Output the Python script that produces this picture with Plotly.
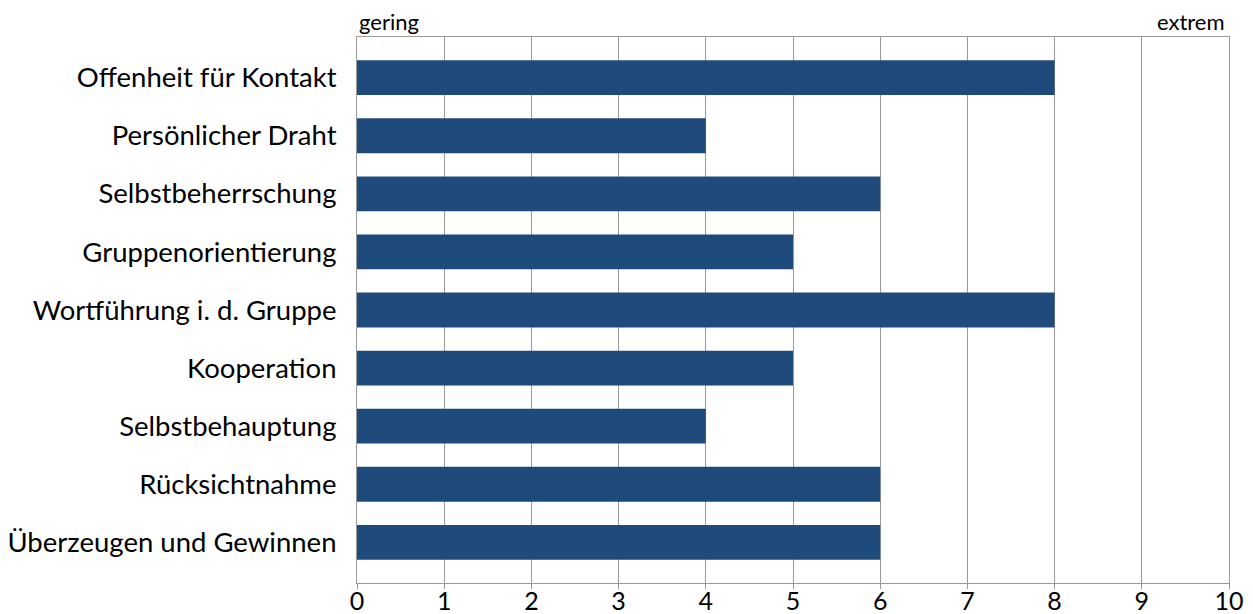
import plotly.graph_objects as go

categories = ["Offenheit für Kontakt", "Persönlicher Draht", "Selbstbeherrschung",
              "Gruppenorientierung", "Wortführung i. d. Gruppe", "Kooperation",
              "Selbstbehauptung", "Rücksichtnahme", "Überzeugen und Gewinnen"]
values = [8, 4, 6, 5, 8, 5, 4, 6, 6]
x_ticks = list(range(0, 11))
left_label = "gering"
right_label = "extrem"

fig = go.Figure(go.Bar(
    x=values, y=categories, orientation="h",
    marker=dict(color="#1f4a7c", line=dict(width=0)),
    width=0.6,
))

fig.update_layout(
    width=1245, height=606,
    margin=dict(l=349, r=24, t=29, b=31, autoexpand=False),
    paper_bgcolor="white", plot_bgcolor="white",
    font=dict(family="Lato", color="black"),
    showlegend=False,
    bargap=0.4,
    annotations=[
        dict(text=left_label, x=0, y=1, xref="paper", yref="paper",
             xanchor="left", yanchor="bottom", showarrow=False,
             font=dict(size=22, family="Lato"), xshift=0, yshift=0),
        dict(text=right_label, x=1, y=1, xref="paper", yref="paper",
             xanchor="right", yanchor="bottom", showarrow=False,
             font=dict(size=22, family="Lato"), xshift=-2, yshift=0),
    ],
)
fig.update_xaxes(
    range=[0, 10], tickvals=x_ticks, ticktext=[str(t) for t in x_ticks],
    showgrid=True, gridcolor="#9a9a9a", gridwidth=1,
    showline=True, linecolor="#9a9a9a", linewidth=1, mirror=True,
    ticks="outside", ticklen=5, tickcolor="#9a9a9a", ticklabelstandoff=-9,
    tickfont=dict(size=25, family="Lato"), zeroline=False, automargin=False,
)
fig.update_yaxes(
    categoryorder="array", categoryarray=categories, autorange=False,
    range=[8.7, -0.7],
    showline=True, linecolor="#9a9a9a", linewidth=1, mirror=True,
    ticks="", ticklabelstandoff=14,
    tickfont=dict(size=27.5, family="Lato"), showgrid=False, automargin=False,
)

fig.write_html("out.html")
